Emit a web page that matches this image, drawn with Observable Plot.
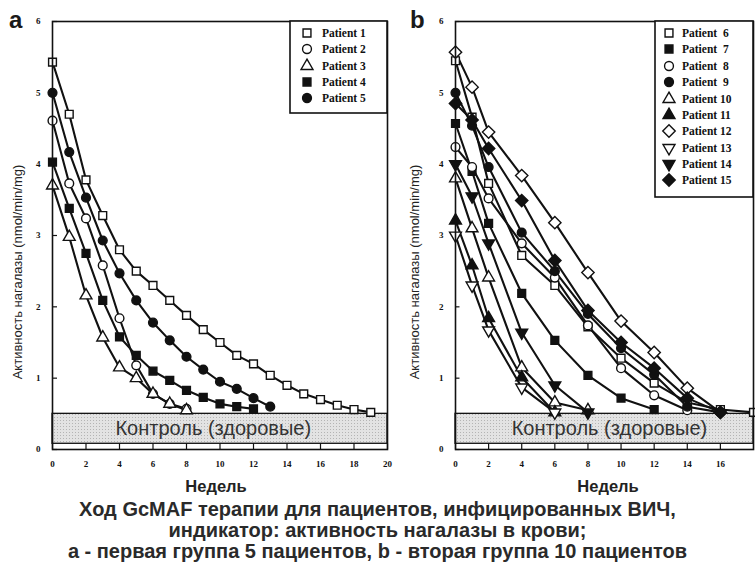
<!DOCTYPE html>
<html>
<head>
<meta charset="utf-8">
<script src="https://cdn.jsdelivr.net/npm/d3@7"></script>
<script src="https://cdn.jsdelivr.net/npm/@observablehq/plot@0.6"></script>
<style>
  body { margin: 0; background: #fff; }
  #root { position: relative; width: 755px; height: 564px; overflow: hidden; font-family: Arial, "Liberation Sans", sans-serif; color: #1a1a1a; }
  .panel { position: absolute; top: 0; }
  .plabel { position: absolute; font: bold 24px Arial, "Liberation Sans", sans-serif; line-height: 1; }
  .ylab { position: absolute; transform: translate(-50%, -50%) rotate(-90deg); white-space: nowrap; font-size: 13px; color: #222; }
  .xlab { position: absolute; transform: translate(-50%, -50%); font-weight: bold; font-size: 16.5px; color: #222; }
  .caption { position: absolute; left: 0; width: 755px; text-align: center; font-size: 20px; font-weight: bold; line-height: 21px; color: #2a2a2a; white-space: nowrap; }
</style>
</head>
<body>
<div id="root"></div>
<script>
// ---------------- data ----------------
const weeksA = [0, 1, 2, 3, 4, 5, 6, 7, 8, 9, 10, 11, 12, 13, 14, 15, 16, 17, 18, 19];
const patient1 = [5.43, 4.7, 3.78, 3.28, 2.8, 2.5, 2.3, 2.09, 1.88, 1.68, 1.5, 1.32, 1.2, 1.04, 0.9, 0.78, 0.7, 0.62, 0.56, 0.52];
const patient2 = [4.61, 3.73, 3.24, 2.58, 1.84, 1.18, 0.78, 0.64, 0.57];
const patient3 = [3.7, 2.98, 2.16, 1.57, 1.15, 1.0, 0.78, 0.64, 0.55];
const patient4 = [4.03, 3.38, 2.75, 2.09, 1.58, 1.32, 1.1, 0.97, 0.83, 0.73, 0.64, 0.6, 0.57];
const patient5 = [5.0, 4.17, 3.53, 2.93, 2.47, 2.09, 1.78, 1.53, 1.3, 1.12, 0.95, 0.85, 0.72, 0.6];

const weeksB = [0, 1, 2, 4, 6, 8, 10, 12, 14, 16, 18];
const patient6 = [5.45, 4.66, 3.73, 2.72, 2.3, 1.72, 1.28, 0.93, 0.66, 0.56, 0.52];
const patient7 = [4.57, 3.9, 3.17, 2.19, 1.53, 1.04, 0.72, 0.56];
const patient8 = [4.24, 3.96, 3.52, 2.89, 2.41, 1.74, 1.14, 0.76, 0.55];
const patient9 = [5.0, 4.54, 3.96, 3.04, 2.5, 1.9, 1.42, 1.05, 0.6, 0.52];
const patient10 = [3.8, 3.1, 2.41, 1.15, 0.66, 0.55];
const patient11 = [3.21, 2.58, 1.84, 1.01, 0.52];
const patient12 = [5.57, 5.08, 4.45, 3.84, 3.18, 2.48, 1.8, 1.36, 0.86, 0.52];
const patient13 = [3.0, 2.3, 1.67, 0.87, 0.52];
const patient14 = [4.0, 3.55, 2.89, 1.64, 0.9, 0.52];
const patient15 = [4.85, 4.62, 4.22, 3.49, 2.65, 1.95, 1.5, 1.14, 0.72, 0.52];

const namesA = ["Patient 1", "Patient 2", "Patient 3", "Patient 4", "Patient 5"];
const namesB = ["Patient  6", "Patient  7", "Patient  8", "Patient  9", "Patient 10", "Patient 11", "Patient 12", "Patient 13", "Patient 14", "Patient 15"];

const ticksA = [0, 2, 4, 6, 8, 10, 12, 14, 16, 18, 20];
const ticksB = [0, 2, 4, 6, 8, 10, 12, 14, 16];
const ticksY = [0, 1, 2, 3, 4, 5, 6];

const controlBand = [{low: 0.08, high: 0.5}];
const controlLabel = ["Контроль (здоровые)"];
const xTitle = "Недель";
const yTitle = "Активность нагалазы (nmol/min/mg)";
const captionLines = [
  "Ход GcMAF терапии для пациентов, инфицированных ВИЧ,",
  "индикатор: активность нагалазы в крови;",
  "а - первая группа 5 пациентов, b - вторая группа 10 пациентов"
];

// ---------------- symbols / styles ----------------
const triDown = {
  draw(ctx, size) {
    const y = -Math.sqrt(size / (Math.sqrt(3) * 3));
    ctx.moveTo(0, -y * 2);
    ctx.lineTo(-Math.sqrt(3) * y, y);
    ctx.lineTo(Math.sqrt(3) * y, y);
    ctx.closePath();
  }
};
const diamond = {
  draw(ctx, size) {
    const d = Math.sqrt(size / 2) * 1.12;
    ctx.moveTo(0, -d); ctx.lineTo(d, 0); ctx.lineTo(0, d); ctx.lineTo(-d, 0); ctx.closePath();
  }
};
const SYM = {square: d3.symbolSquare, circle: d3.symbolCircle, triangle: d3.symbolTriangle, diamond, triDown};

const styleA = [
  ["square", false], ["circle", false], ["triangle", false], ["square", true], ["circle", true]
];
const styleB = [
  ["square", false], ["square", true], ["circle", false], ["circle", true], ["triangle", false],
  ["triangle", true], ["diamond", false], ["triDown", false], ["triDown", true], ["diamond", true]
];

function rowsFor(names, series, weeks) {
  return names.flatMap((p, i) => series[i].map((v, j) => ({patient: p, week: weeks[j], value: v})));
}
const rowsA = rowsFor(namesA, [patient1, patient2, patient3, patient4, patient5], weeksA);
const rowsB = rowsFor(namesB, [patient6, patient7, patient8, patient9, patient10, patient11, patient12, patient13, patient14, patient15], weeksB);

function panel({id, rows, names, styles, xmax, ticks, width, marginLeft, marginRight, labelX}) {
  const marks = [
    Plot.rect(controlBand, {x1: 0, x2: xmax, y1: "low", y2: "high", fill: `url(#dots${id})`, stroke: "#111", strokeWidth: 1.3}),
    Plot.text(controlLabel, {x: labelX, y: 0.29, text: d => d, fontSize: 20, fill: "#333", fontFamily: "Arial, 'Liberation Sans', sans-serif"}),
    Plot.ruleX(ticks, {y1: 0, y2: 0.08, stroke: "#111", strokeWidth: 1.2}),
    Plot.ruleY(ticksY, {x1: 0, x2: xmax * 0.015, stroke: "#111", strokeWidth: 1.2}),
    Plot.axisX(ticks, {tickSize: 0, tickPadding: 11, fontSize: 9, fontWeight: "bold", fontFamily: "'Liberation Serif', 'DejaVu Serif', serif", fill: "#111", label: null, tickFormat: d => String(d)}),
    Plot.axisY(ticksY, {tickSize: 0, tickPadding: 12, fontSize: 9, fontWeight: "bold", fontFamily: "'Liberation Serif', 'DejaVu Serif', serif", fill: "#111", label: null, tickFormat: d => String(d)}),
    Plot.line(rows, {x: "week", y: "value", z: "patient", stroke: "#111", strokeWidth: 2.1})
  ];
  names.forEach((p, i) => {
    const [s, filled] = styles[i];
    marks.push(Plot.dot(rows.filter(d => d.patient === p), {
      x: "week", y: "value", symbol: SYM[s], r: 4.4,
      fill: filled ? "#111" : "#fff", stroke: "#111", strokeWidth: 1.4
    }));
  });
  marks.push(Plot.frame({stroke: "#111", strokeWidth: 1.6}));
  const svg = Plot.plot({
    width, height: 500, marginLeft, marginRight, marginTop: 21, marginBottom: 51,
    x: {domain: [0, xmax]}, y: {domain: [0, 6]},
    style: {background: "transparent", overflow: "visible"},
    marks
  });
  const pat = d3.select(svg).insert("defs", ":first-child").append("pattern")
    .attr("id", `dots${id}`).attr("patternUnits", "userSpaceOnUse").attr("width", 3).attr("height", 3);
  pat.append("rect").attr("width", 3).attr("height", 3).attr("fill", "#e3e3e3");
  pat.append("rect").attr("width", 1).attr("height", 1).attr("fill", "#b4b4b4");
  return svg;
}

function addLegend(svg, names, styles, box, markerX, textX, rowYs) {
  const g = d3.select(svg).append("g").attr("text-anchor", "start");
  g.append("rect").attr("x", box[0]).attr("y", box[1]).attr("width", box[2]).attr("height", box[3])
    .attr("fill", "#fff").attr("stroke", "#111").attr("stroke-width", 1.6);
  names.forEach((p, i) => {
    const [s, filled] = styles[i];
    g.append("path").attr("d", d3.symbol().type(SYM[s]).size(62)())
      .attr("transform", `translate(${markerX},${rowYs[i]})`)
      .attr("fill", filled ? "#111" : "#fff").attr("stroke", "#111").attr("stroke-width", 1.4);
    g.append("text").attr("x", textX).attr("y", rowYs[i]).attr("dy", "0.35em").attr("text-anchor", "start")
      .attr("font-family", "'Liberation Serif', 'DejaVu Serif', serif").attr("font-weight", "bold")
      .attr("font-size", 11.5).attr("fill", "#111").style("white-space", "pre").text(p);
  });
}

const root = document.getElementById("root");

const svgA = panel({id: "A", rows: rowsA, names: namesA, styles: styleA, xmax: 20, ticks: ticksA, width: 395, marginLeft: 52, marginRight: 8, labelX: 9.6});
addLegend(svgA, namesA, styleA, [290, 21, 97, 92], 307, 322, [33, 49, 66, 82, 98]);
const wrapA = document.createElement("div"); wrapA.className = "panel"; wrapA.style.left = "0px"; wrapA.appendChild(svgA); root.appendChild(wrapA);

const svgB = panel({id: "B", rows: rowsB, names: namesB, styles: styleB, xmax: 18, ticks: ticksB, width: 355, marginLeft: 55, marginRight: 2, labelX: 9.3});
addLegend(svgB, namesB, styleB, [255, 21, 98, 176], 269, 282, [33, 49, 66, 82, 99, 115, 131, 148, 164, 180]);
const wrapB = document.createElement("div"); wrapB.className = "panel"; wrapB.style.left = "400px"; wrapB.appendChild(svgB); root.appendChild(wrapB);

function addDiv(cls, text, left, top) {
  const d = document.createElement("div"); d.className = cls; d.textContent = text;
  d.style.left = left + "px"; d.style.top = top + "px"; root.appendChild(d); return d;
}
addDiv("plabel", "a", 9, 8);
addDiv("plabel", "b", 410, 8);
addDiv("ylab", yTitle, 17, 272);
addDiv("ylab", yTitle, 414, 272);
addDiv("xlab", xTitle, 216, 486);
addDiv("xlab", xTitle, 608, 486);
captionLines.forEach((t, i) => addDiv("caption", t, 0, 499 + i * 21));
</script>
</body>
</html>
